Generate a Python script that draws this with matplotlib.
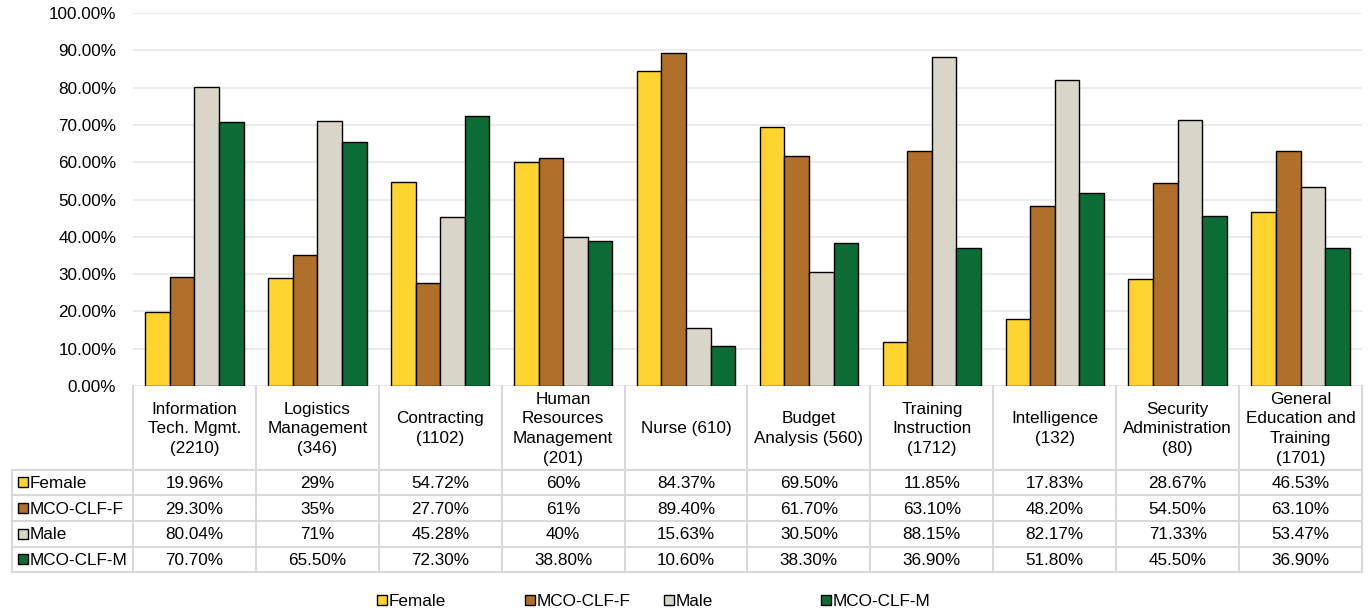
import numpy as np
import matplotlib.pyplot as plt
from matplotlib.patches import Rectangle

plt.rcParams['font.family'] = ['Liberation Sans', 'DejaVu Sans']

categories = ["Information\nTech. Mgmt.\n(2210)", "Logistics\nManagement\n(346)", "Contracting\n(1102)",
              "Human\nResources\nManagement\n(201)", "Nurse (610)", "Budget\nAnalysis (560)",
              "Training\nInstruction\n(1712)", "Intelligence\n(132)", "Security\nAdministration\n(80)",
              "General\nEducation and\nTraining\n(1701)"]
series_names = ["Female", "MCO-CLF-F", "Male", "MCO-CLF-M"]
female = [19.96, 29, 54.72, 60, 84.37, 69.50, 11.85, 17.83, 28.67, 46.53]
mco_f = [29.30, 35, 27.70, 61, 89.40, 61.70, 63.10, 48.20, 54.50, 63.10]
male = [80.04, 71, 45.28, 40, 15.63, 30.50, 88.15, 82.17, 71.33, 53.47]
mco_m = [70.70, 65.50, 72.30, 38.80, 10.60, 38.30, 36.90, 51.80, 45.50, 36.90]
table_text = [
    ["19.96%", "29%", "54.72%", "60%", "84.37%", "69.50%", "11.85%", "17.83%", "28.67%", "46.53%"],
    ["29.30%", "35%", "27.70%", "61%", "89.40%", "61.70%", "63.10%", "48.20%", "54.50%", "63.10%"],
    ["80.04%", "71%", "45.28%", "40%", "15.63%", "30.50%", "88.15%", "82.17%", "71.33%", "53.47%"],
    ["70.70%", "65.50%", "72.30%", "38.80%", "10.60%", "38.30%", "36.90%", "51.80%", "45.50%", "36.90%"],
]
colors = ["#FFD42F", "#B06F2B", "#D9D5C9", "#0D6B36"]
FS = 12.3

W, H = 1370, 611
fig = plt.figure(figsize=(W / 100, H / 100), dpi=100)

# pixel layout
x0, x1 = 133, 1362
y_top, y_zero = 13, 386
ax = fig.add_axes([x0 / W, 1 - y_zero / H, (x1 - x0) / W, (y_zero - y_top) / H])

n = len(categories)
x = np.arange(n)
bw = 0.2
for i, (vals, c) in enumerate(zip([female, mco_f, male, mco_m], colors)):
    ax.bar(x + (i - 1.5) * bw, vals, bw, color=c, edgecolor="black", linewidth=1.0, zorder=3)

ax.set_xlim(-0.5, n - 0.5)
ax.set_ylim(0, 100)
ax.set_yticks(np.arange(0, 101, 10))
ax.set_yticklabels([f"{v:.2f}%" for v in np.arange(0, 101, 10)], fontsize=FS)
ax.tick_params(axis="y", length=0, pad=12)
ax.set_xticks([])
ax.grid(axis="y", color="#E8E8E8", linewidth=1.2, zorder=0)
for s in ax.spines.values():
    s.set_visible(False)

# data table drawn in pixel coordinates
tax = fig.add_axes([0, 0, 1, 1])
tax.set_xlim(0, W)
tax.set_ylim(H, 0)
tax.axis("off")
lc = "#D9D9D9"
col_w = (x1 - x0) / n
hdr_bot = 469.5
row_h = 25.7
rows_y = [hdr_bot + k * row_h for k in range(5)]
left = 12.5
for k in range(n + 1):
    xx = x0 + k * col_w
    tax.plot([xx, xx], [y_zero, rows_y[-1]], color=lc, lw=1.5)
tax.plot([left, left], [hdr_bot, rows_y[-1]], color=lc, lw=1.5)
for yy in rows_y:
    tax.plot([left, x1], [yy, yy], color=lc, lw=1.5)
for k, cat in enumerate(categories):
    tax.text(x0 + (k + 0.5) * col_w, (y_zero + hdr_bot) / 2 + 1, cat, ha="center", va="center",
             fontsize=FS, linespacing=1.38)
for r in range(4):
    yc = rows_y[r] + row_h / 2
    tax.add_patch(Rectangle((18, yc - 5), 10, 10, facecolor=colors[r], edgecolor="black", lw=1))
    tax.text(30, yc + 1, series_names[r], ha="left", va="center", fontsize=FS)
    for k in range(n):
        tax.text(x0 + (k + 0.5) * col_w, yc + 1, table_text[r][k], ha="center", va="center", fontsize=FS)

# legend at bottom
leg_x = [377, 525, 664, 821]
for r in range(4):
    tax.add_patch(Rectangle((leg_x[r], 595), 10, 10, facecolor=colors[r], edgecolor="black", lw=1))
    tax.text(leg_x[r] + 12, 601, series_names[r], ha="left", va="center", fontsize=FS)

fig.savefig("out.png", dpi=100)
